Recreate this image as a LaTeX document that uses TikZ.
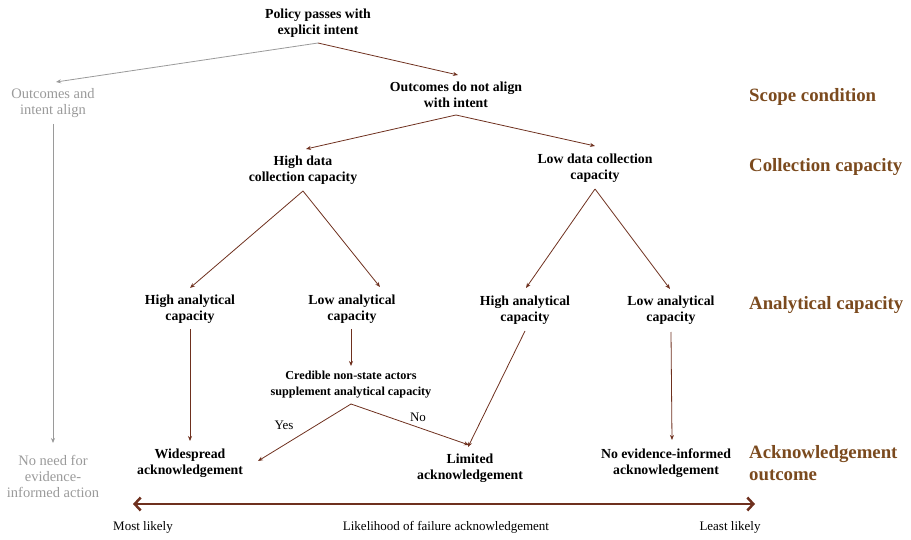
\documentclass[tikz,border=0pt]{standalone}
\usepackage{fontspec}
\setmainfont{Liberation Serif}
\usetikzlibrary{arrows.meta}
\definecolor{arr}{HTML}{6E301E}
\definecolor{lab}{HTML}{7B4A1E}
\definecolor{grey}{HTML}{9A9A9A}
\begin{document}
\begin{tikzpicture}[x=1pt,y=-1pt,
  box/.style={align=center,font=\fontsize{13.8}{16}\selectfont\bfseries,inner sep=0pt},
  gbox/.style={align=center,font=\fontsize{14.5}{16}\selectfont,text=grey,inner sep=0pt},
  small/.style={align=center,font=\fontsize{12.2}{16}\selectfont\bfseries,inner sep=0pt},
  side/.style={anchor=west,align=left,font=\fontsize{18.8}{22}\selectfont\bfseries,text=lab,inner sep=0pt},
  plain/.style={font=\fontsize{13}{14}\selectfont,inner sep=0pt},
  con/.style={draw=arr,line width=0.8pt,-{Stealth[length=5pt,width=4pt]}},
  gcon/.style={draw=grey,line width=0.8pt,-{Stealth[length=5pt,width=4pt]}},
]
\useasboundingbox (0,0) rectangle (911,540);
\node[box] (policy) at (318,23) {Policy passes with\\explicit intent};
\node[gbox] (align) at (53,103) {Outcomes and\\intent align};
\node[box] (notalign) at (456,95) {Outcomes do not align\\with intent};
\node[box] (highdata) at (303,170) {High data\\collection capacity};
\node[box] (lowdata) at (595,168) {Low data collection\\capacity};
\node[box] (hal) at (190,309) {High analytical\\capacity};
\node[box] (lal) at (352,309) {Low analytical\\capacity};
\node[box] (har) at (525,310) {High analytical\\capacity};
\node[box] (lar) at (671,310) {Low analytical\\capacity};
\node[small] (cred) at (351,385) {Credible non-state actors\\supplement analytical capacity};
\node[box] (wide) at (190,463) {Widespread\\acknowledgement};
\node[box] (lim) at (470,468) {Limited\\acknowledgement};
\node[box] (noev) at (666,463) {No evidence-informed\\acknowledgement};
\node[gbox] (noneed) at (53,476) {No need for\\evidence-\\informed action};

\node[side] (s1) at (749,97) {Scope condition};
\node[side] (s2) at (749,167) {Collection capacity};
\node[side] (s3) at (749,305) {Analytical capacity};
\node[side] (s4) at (749,463) {Acknowledgement\\outcome};

\coordinate (pb) at (318,43);
\coordinate (nb) at (456,115);
\coordinate (hb) at (303,191);
\coordinate (lb) at (595,189);
\coordinate (cb) at (351,404);

\draw[gcon] (pb) -- (56,82);
\draw[con] (pb) -- (458,75);
\draw[con] (nb) -- (306,149);
\draw[con] (nb) -- (595,146);
\draw[gcon] (53,124) -- (53,443);
\draw[con] (hb) -- (190,288);
\draw[con] (hb) -- (380,287);
\draw[con] (lb) -- (526,288);
\draw[con] (lb) -- (670,289);
\draw[con] (190,329) -- (190,441);
\draw[con] (351,329) -- (351,366);
\draw[con] (cb) -- (258,461);
\draw[con] (cb) -- (469,445);
\node[plain] (yes) at (284,425) {Yes};
\node[plain] (no) at (418,417) {No};
\draw[con] (525,331) -- (468,447);
\draw[con] (671,332) -- (672,440);

\coordinate (al) at (133,504);
\coordinate (ar) at (755,504);
\draw[draw=arr,line width=2.8pt,{Straight Barb[length=6pt,width=13pt,line width=2.5pt]}-{Straight Barb[length=6pt,width=13pt,line width=2.5pt]}] (al) -- (ar);
\node[plain] (most) at (143,527) {Most likely};
\node[plain] (mid) at (446,527) {Likelihood of failure acknowledgement};
\node[plain] (least) at (730,527) {Least likely};
\end{tikzpicture}
\end{document}
